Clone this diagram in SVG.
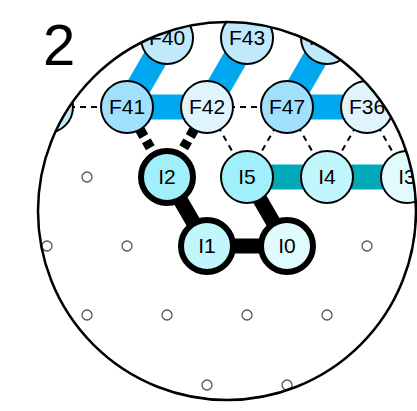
<svg xmlns="http://www.w3.org/2000/svg" width="417" height="411" viewBox="0 0 417 411">
<defs>
<clipPath id="clip"><circle cx="227" cy="211" r="189"/></clipPath>
<style>
.blue{stroke:#00a8f0;stroke-width:25;fill:none}
.teal{stroke:#00a8b8;stroke-width:25;fill:none}
.blk{stroke:#000;stroke-width:15;fill:none}
.tdash{stroke:#000;stroke-width:10;stroke-dasharray:8 5;fill:none}
.dash{stroke:#000;stroke-width:2;stroke-dasharray:6 5;fill:none}
.n circle{stroke:#000;stroke-width:2}
.n.thick circle{stroke-width:6}
.n text{font-family:"Liberation Sans",Arial,sans-serif;font-size:21px;text-anchor:middle;fill:#000}
.g{fill:none;stroke:#555;stroke-width:1.3}
</style>
</defs>
<rect width="417" height="411" fill="#fff"/>
<g id="grid">
<circle class="g" cx="87" cy="177" r="5"/>
<circle class="g" cx="47" cy="246" r="5"/>
<circle class="g" cx="127" cy="246" r="5"/>
<circle class="g" cx="367" cy="246" r="5"/>
<circle class="g" cx="87" cy="315" r="5"/>
<circle class="g" cx="167" cy="315" r="5"/>
<circle class="g" cx="247" cy="315" r="5"/>
<circle class="g" cx="327" cy="315" r="5"/>
<circle class="g" cx="207" cy="385" r="5"/>
<circle class="g" cx="287" cy="385" r="5"/>
</g>
<g clip-path="url(#clip)">
<g id="connectors">
<line class="blue" x1="167" y1="38" x2="127" y2="107"/>
<line class="blue" x1="247" y1="38" x2="207" y2="107"/>
<line class="blue" x1="327" y1="38" x2="287" y2="107"/>
<line class="blue" x1="127" y1="107" x2="207" y2="107"/>
<line class="blue" x1="287" y1="107" x2="367" y2="107"/>
<line class="teal" x1="247" y1="177" x2="327" y2="177"/>
<line class="teal" x1="327" y1="177" x2="407" y2="177"/>
<line class="blk" x1="167" y1="177" x2="207" y2="246"/>
<line class="blk" x1="207" y1="246" x2="287" y2="246"/>
<line class="blk" x1="287" y1="246" x2="247" y2="177"/>
<line class="dash" x1="47" y1="107" x2="127" y2="107"/>
<line class="dash" x1="207" y1="107" x2="287" y2="107"/>
<line class="dash" x1="207" y1="107" x2="247" y2="177"/>
<line class="dash" x1="287" y1="107" x2="247" y2="177"/>
<line class="dash" x1="287" y1="107" x2="327" y2="177"/>
<line class="dash" x1="367" y1="107" x2="327" y2="177"/>
<line class="dash" x1="367" y1="107" x2="407" y2="177"/>
<line class="tdash" x1="127" y1="107" x2="167" y2="177"/>
<line class="tdash" x1="207" y1="107" x2="167" y2="177"/>
</g>
<g id="nF40" class="n"><circle cx="167" cy="38" r="26" fill="#c0eafc"/><text x="167" y="45">F40</text></g>
<g id="nF43" class="n"><circle cx="247" cy="38" r="26" fill="#c0eafc"/><text x="247" y="45">F43</text></g>
<g id="nF46" class="n"><circle cx="327" cy="38" r="26" fill="#c0eafc"/><text x="327" y="45">F46</text></g>
<g id="nL" class="n"><circle cx="47" cy="107" r="26" fill="#c0eafc"/></g>
<g id="nF41" class="n"><circle cx="127" cy="107" r="26" fill="#a0e0fc"/><text x="127" y="114">F41</text></g>
<g id="nF42" class="n"><circle cx="207" cy="107" r="26" fill="#e0f4fe"/><text x="207" y="114">F42</text></g>
<g id="nF47" class="n"><circle cx="287" cy="107" r="26" fill="#a0e0fc"/><text x="287" y="114">F47</text></g>
<g id="nF36" class="n"><circle cx="367" cy="107" r="26" fill="#e0f4fe"/><text x="367" y="114">F36</text></g>
<g id="nI2" class="n thick"><circle cx="167" cy="177" r="26" fill="#a0f0fc"/><text x="167" y="184">I2</text></g>
<g id="nI5" class="n"><circle cx="247" cy="177" r="26" fill="#a0f0fc"/><text x="247" y="184">I5</text></g>
<g id="nI4" class="n"><circle cx="327" cy="177" r="26" fill="#c0f6fc"/><text x="327" y="184">I4</text></g>
<g id="nI3" class="n"><circle cx="407" cy="177" r="26" fill="#e0fafe"/><text x="407" y="184">I3</text></g>
<g id="nI1" class="n thick"><circle cx="207" cy="246" r="26" fill="#c0f6fc"/><text x="207" y="253">I1</text></g>
<g id="nI0" class="n thick"><circle cx="287" cy="246" r="26" fill="#e0fafe"/><text x="287" y="253">I0</text></g>
</g>
<circle cx="227" cy="211" r="189" fill="none" stroke="#000" stroke-width="2.5"/>
<text x="43" y="65" font-family="Liberation Sans,Arial,sans-serif" font-size="58">2</text>
</svg>
